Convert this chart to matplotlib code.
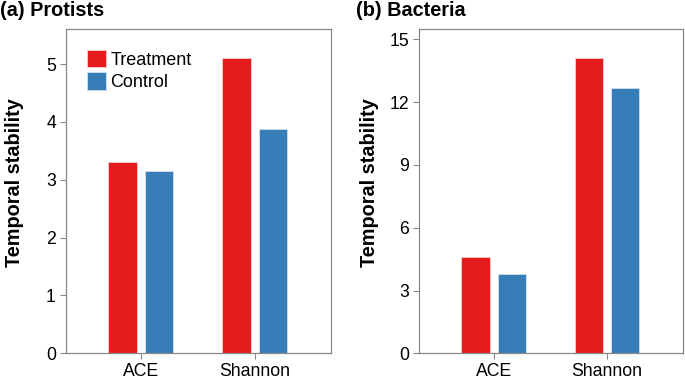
import matplotlib
matplotlib.use("Agg")
import matplotlib.pyplot as plt
import numpy as np

plt.rcParams['font.family'] = ['Liberation Sans', 'DejaVu Sans']

categories = ["ACE", "Shannon"]
series_names = ["Treatment", "Control"]
protists_treatment = [3.30, 5.10]
protists_control = [3.15, 3.87]
bacteria_treatment = [4.60, 14.09]
bacteria_control = [3.79, 12.66]
protists_yticks = [0, 1, 2, 3, 4, 5]
bacteria_yticks = [0, 3, 6, 9, 12, 15]

red = "#E41A1C"
blue = "#377EB8"

fig = plt.figure(figsize=(6.85, 3.88), dpi=100)
ax1 = fig.add_axes([0.0959, 0.0894, 0.3873, 0.8351])
ax2 = fig.add_axes([0.6117, 0.0894, 0.3853, 0.8351])

x = np.arange(len(categories))
w = 0.25
off = 0.16

def draw(ax, tr, ct, yticks, ymax, title, title_x, labx, legend=False):
    ax.bar(x - off, tr, w, color=red, edgecolor="#f6d0d0", linewidth=0.6, label=series_names[0])
    ax.bar(x + off, ct, w, color=blue, edgecolor="#cfe0ef", linewidth=0.6, label=series_names[1])
    ax.set_xlim(-0.66, 1.67)
    ax.set_ylim(0, ymax)
    ax.set_yticks(yticks)
    ax.set_xticks(x)
    ax.set_xticklabels(categories, fontsize=12.7)
    ax.tick_params(axis='y', labelsize=12.7, length=4, width=0.8, color="#888888", pad=3)
    ax.tick_params(axis='x', length=4, width=0.8, color="#888888", pad=3)
    for s in ax.spines.values():
        s.set_color("#888888")
        s.set_linewidth(0.9)
    ax.set_ylabel("Temporal stability", fontsize=14.3, fontweight='bold')
    ax.yaxis.set_label_coords(labx, 0.527)
    fig.text(title_x, 0.972, title, fontsize=14.3, fontweight='bold', ha='left', va='center')
    if legend:
        ax.legend(loc='upper left', bbox_to_anchor=(0.04, 0.97), frameon=False,
                  fontsize=13, handlelength=1.05, handleheight=1.1, handletextpad=0.25,
                  labelspacing=0.2, borderaxespad=0.2)

draw(ax1, protists_treatment, protists_control, protists_yticks, 5.6, "(a) Protists", 0.0, -0.157, legend=True)
draw(ax2, bacteria_treatment, bacteria_control, bacteria_yticks, 15.48, "(b) Bacteria", 0.519, -0.152)

fig.savefig("out.png", dpi=100)
